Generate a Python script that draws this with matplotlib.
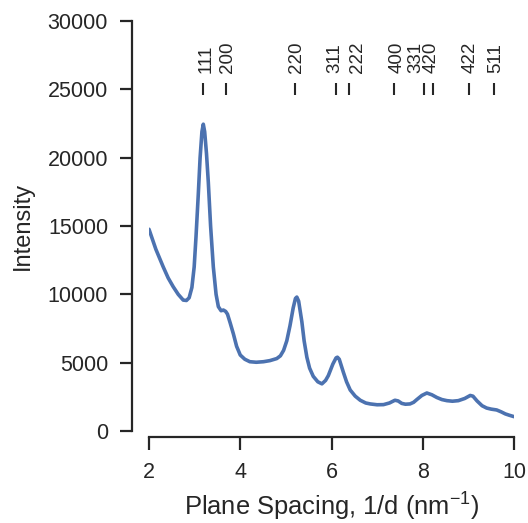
import matplotlib
matplotlib.use("Agg")
import matplotlib.pyplot as plt
import matplotlib.transforms as mtransforms

plt.rcParams['font.family'] = ['Liberation Sans', 'DejaVu Sans']
plt.rcParams['mathtext.fontset'] = 'custom'
plt.rcParams['mathtext.rm'] = 'Liberation Sans'
plt.rcParams['mathtext.it'] = 'Liberation Sans:italic'
plt.rcParams['mathtext.bf'] = 'Liberation Sans:bold'

# Curve
x_vals = [2.00, 2.15, 2.31, 2.42, 2.53, 2.64, 2.75, 2.82, 2.88, 2.94, 2.99, 3.03,
          3.08, 3.12, 3.16, 3.19, 3.22, 3.26, 3.30, 3.35, 3.41, 3.47, 3.52, 3.58,
          3.63, 3.68, 3.72, 3.78, 3.85, 3.92, 4.00, 4.10, 4.21, 4.35, 4.51, 4.65,
          4.80, 4.88, 4.95, 5.02, 5.09, 5.16, 5.21, 5.24, 5.28, 5.35, 5.40, 5.46,
          5.52, 5.60, 5.70, 5.79, 5.87, 5.93, 6.03, 6.10, 6.13, 6.17, 6.26, 6.33,
          6.41, 6.52, 6.63, 6.75, 6.85, 7.00, 7.14, 7.27, 7.39, 7.46, 7.54, 7.62,
          7.72, 7.80, 7.87, 7.98, 8.09, 8.20, 8.31, 8.42, 8.53, 8.65, 8.78, 8.92,
          9.04, 9.10, 9.19, 9.30, 9.40, 9.50, 9.62, 9.72, 9.81, 9.90, 10.00]
y_vals = [14760, 13300, 12020, 11200, 10560, 10000, 9580, 9550, 9750, 10500, 12000, 14200,
          17300, 20000, 21900, 22450, 21900, 20300, 18200, 15000, 12000, 10000, 9100, 8800,
          8850, 8750, 8550, 7900, 7100, 6200, 5560, 5250, 5070, 5030, 5070, 5150,
          5300, 5500, 5900, 6600, 7700, 9000, 9700, 9800, 9500, 8000, 6600, 5400,
          4600, 4000, 3600, 3450, 3700, 4050, 4900, 5350, 5400, 5250, 4300, 3600,
          3000, 2550, 2250, 2050, 1980, 1920, 1930, 2050, 2250, 2200, 2020, 1960,
          1980, 2100, 2300, 2600, 2780, 2650, 2450, 2300, 2220, 2180, 2220, 2380,
          2600, 2550, 2200, 1850, 1680, 1600, 1540, 1400, 1250, 1150, 1050]

# Peak markers (Miller indices), marker positions and label positions
peak_labels = ['111', '200', '220', '311', '222', '400', '331', '420', '422', '511']
peak_pos = [3.189, 3.683, 5.208, 6.107, 6.378, 7.365, 8.026, 8.234, 9.020, 9.567]
label_pos = [3.21, 3.68, 5.19, 6.02, 6.515, 7.40, 7.79, 8.14, 9.00, 9.56]
marker_lo, marker_hi = 24600, 25450
label_y = 26200

x_ticks = [2, 4, 6, 8, 10]
y_ticks = [0, 5000, 10000, 15000, 20000, 25000, 30000]

W, H = 528, 523
fig = plt.figure(figsize=(W / 100, H / 100), dpi=100)
ax = fig.add_axes([149 / W, 1 - 431 / H, (514 - 149) / W, (431 - 21) / H])

ink = '#262626'
ax.plot(x_vals, y_vals, color='#4C72B0', lw=2.6, solid_capstyle='round')

ax.vlines(peak_pos, marker_lo, marker_hi, color=ink, lw=1.5)
lab_fs = 13.5
trans = mtransforms.offset_copy(ax.transData, fig=fig, x=0.716 * lab_fs / 2, y=0, units='points')
for lab, p in zip(peak_labels, label_pos):
    ax.text(p, label_y, lab, rotation=90, rotation_mode='anchor', ha='left',
            va='baseline', fontsize=lab_fs, color=ink, transform=trans)

ax.set_xlim(2, 10)
ax.set_ylim(0, 30000)
ax.set_xticks(x_ticks)
ax.set_yticks(y_ticks)
ax.tick_params(axis='both', labelsize=15.5, length=9, width=1.6, color=ink,
               labelcolor=ink, pad=8)
ax.tick_params(axis='x', pad=9)

for s in ['top', 'right']:
    ax.spines[s].set_visible(False)
ax.spines['left'].set_position(('outward', 12.5))
ax.spines['bottom'].set_position(('outward', 4))
ax.spines['left'].set_bounds(0, 30000)
ax.spines['bottom'].set_bounds(2, 10)
for s in ['left', 'bottom']:
    ax.spines[s].set_linewidth(1.6)
    ax.spines[s].set_color(ink)

ax.set_xlabel('Plane Spacing, 1/d (nm$^{-1}$)', fontsize=18.4, color=ink, labelpad=6)
ax.set_ylabel('Intensity', fontsize=17, color=ink, labelpad=10)

fig.savefig('out.png', dpi=100)
